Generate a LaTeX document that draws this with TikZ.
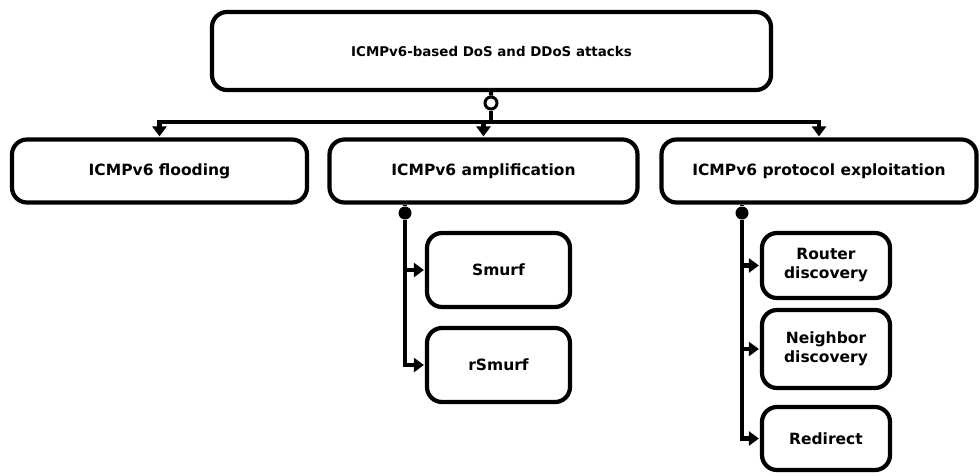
\documentclass[tikz,border=0pt]{standalone}
\usepackage{fontspec}
\setmainfont{DejaVu Sans}
\usetikzlibrary{arrows.meta}

\begin{document}
\begin{tikzpicture}[x=1pt,y=-1pt]
\tikzstyle{box} = [draw,shape=rectangle,rounded corners=15pt,line width=4.2pt,align=center,inner sep=2pt,font=\bfseries\fontsize{15.5}{19}\selectfont]
\tikzstyle{link} = [line width=4.2pt]
\tikzstyle{arr} = [link,-{Triangle[width=14pt,length=10pt]},shorten >=1pt]
\tikzstyle{knot} = [fill,shape=circle,inner sep=0pt,minimum size=13pt]
\tikzstyle{ring} = [draw,fill=white,shape=circle,line width=3pt,inner sep=0pt,minimum size=12pt]

\useasboundingbox (0,0) rectangle (980,475);

\node[box,minimum width=559pt,minimum height=78pt,font=\bfseries\fontsize{13.4}{16}\selectfont] (root) at (491.5,51) {ICMPv6-based DoS and DDoS attacks};

\node[box,minimum width=295pt,minimum height=63pt] (flood) at (159.5,171) {ICMPv6 flooding};
\node[box,minimum width=308pt,minimum height=63pt] (ampl) at (483.5,171) {ICMPv6 amplification};
\node[box,minimum width=315pt,minimum height=63pt] (expl) at (819,171) {ICMPv6 protocol exploitation};

\node[box,minimum width=143pt,minimum height=74pt] (smurf) at (498.5,270) {Smurf};
\node[box,minimum width=143pt,minimum height=74pt] (rsmurf) at (498.5,365) {rSmurf};

\node[box,minimum width=128pt,minimum height=65pt] (router) at (826,265.5) {Router\\discovery};
\node[box,minimum width=128pt,minimum height=78pt] (neigh) at (826,349) {Neighbor\\discovery};
\node[box,minimum width=128pt,minimum height=63pt] (redir) at (826,438.5) {Redirect};

% joints
\node[ring] (d0) at (491,103) {};
\coordinate (bus) at (491,122);
\node[knot] (d1) at (405,213) {};
\node[knot] (d2) at (742,213) {};

\draw[link] (root) -- (d0);
\draw[link] (d0) -- (bus);
\draw[arr] (bus) -| (flood);
\draw[arr] (bus) -| (ampl);
\draw[arr] (bus) -| (expl);

\draw[link] (d1) -- (d1 |- ampl.south);
\draw[arr] (d1) |- (smurf);
\draw[arr] (d1) |- (rsmurf);

\draw[link] (d2) -- (d2 |- expl.south);
\draw[arr] (d2) |- (router);
\draw[arr] (d2) |- (neigh);
\draw[arr] (d2) |- (redir);
\end{tikzpicture}
\end{document}
